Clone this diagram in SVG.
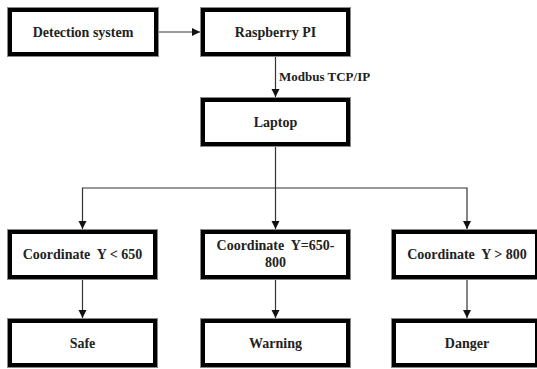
<svg xmlns="http://www.w3.org/2000/svg" width="537" height="369" viewBox="0 0 537 369">
<style>
.box{fill:#fff;stroke:#000;stroke-width:4}
.edge{fill:none;stroke:#8a8a8a;stroke-width:1}
.t{font-family:'Liberation Serif','Times New Roman','DejaVu Serif',serif;font-weight:bold;font-size:14px;fill:#222;text-anchor:middle;white-space:pre}
.lbl{font-family:'Liberation Serif','Times New Roman','DejaVu Serif',serif;font-weight:bold;font-size:13px;fill:#222}
.c{fill:none;stroke:#333;stroke-width:1.2}
</style>
<defs>
<marker id="ah" markerUnits="userSpaceOnUse" markerWidth="10" markerHeight="10" viewBox="0 0 10 10" refX="9" refY="5" orient="auto">
<path d="M1,1 L9,5 L1,9 z" fill="#111"/>
</marker>
</defs>
<rect width="537" height="369" fill="#fff"/>
<g id="connectors">
<path class="c" d="M158,32 H200" marker-end="url(#ah)"/>
<path class="c" d="M275.5,56 V97" marker-end="url(#ah)"/>
<path class="c" d="M275.5,146 V229" marker-end="url(#ah)"/>
<path class="c" d="M275.5,188 H82.5 V229" marker-end="url(#ah)"/>
<path class="c" d="M275.5,188 H467 V229" marker-end="url(#ah)"/>
<path class="c" d="M82.5,279 V318" marker-end="url(#ah)"/>
<path class="c" d="M275.5,279 V318" marker-end="url(#ah)"/>
<path class="c" d="M467,279 V318" marker-end="url(#ah)"/>
<text class="lbl" x="279" y="81" font-family="Liberation Serif, serif">Modbus TCP/IP</text>
</g>
<g id="detection">
<rect class="box" x="10" y="10" width="146" height="44"/>
<rect class="edge" x="7.5" y="7.5" width="151" height="49"/>
<text class="t" x="83" y="37">Detection system</text>
</g>
<g id="raspberry">
<rect class="box" x="203" y="10" width="145" height="44"/>
<rect class="edge" x="200.5" y="7.5" width="150" height="49"/>
<text class="t" x="275.5" y="37">Raspberry PI</text>
</g>
<g id="laptop">
<rect class="box" x="203" y="100" width="145" height="44"/>
<rect class="edge" x="200.5" y="97.5" width="150" height="49"/>
<text class="t" x="275.5" y="127">Laptop</text>
</g>
<g id="coord-low">
<rect class="box" x="10" y="232" width="145" height="45"/>
<rect class="edge" x="7.5" y="229.5" width="150" height="50"/>
<text class="t" x="82.5" y="259">Coordinate  Y &lt; 650</text>
</g>
<g id="coord-mid">
<rect class="box" x="203" y="232" width="145" height="45"/>
<rect class="edge" x="200.5" y="229.5" width="150" height="50"/>
<text class="t" x="275.5" y="250">Coordinate  Y=650-</text>
<text class="t" x="275.5" y="267">800</text>
</g>
<g id="coord-high">
<rect class="box" x="394" y="232" width="143" height="45"/>
<rect class="edge" x="391.5" y="229.5" width="148" height="50"/>
<text class="t" x="467" y="259">Coordinate  Y &gt; 800</text>
</g>
<g id="safe">
<rect class="box" x="10" y="321" width="145" height="44"/>
<rect class="edge" x="7.5" y="318.5" width="150" height="49"/>
<text class="t" x="82.5" y="348">Safe</text>
</g>
<g id="warning">
<rect class="box" x="203" y="321" width="145" height="44"/>
<rect class="edge" x="200.5" y="318.5" width="150" height="49"/>
<text class="t" x="275.5" y="348">Warning</text>
</g>
<g id="danger">
<rect class="box" x="394" y="321" width="143" height="44"/>
<rect class="edge" x="391.5" y="318.5" width="148" height="49"/>
<text class="t" x="467" y="348">Danger</text>
</g>
</svg>
